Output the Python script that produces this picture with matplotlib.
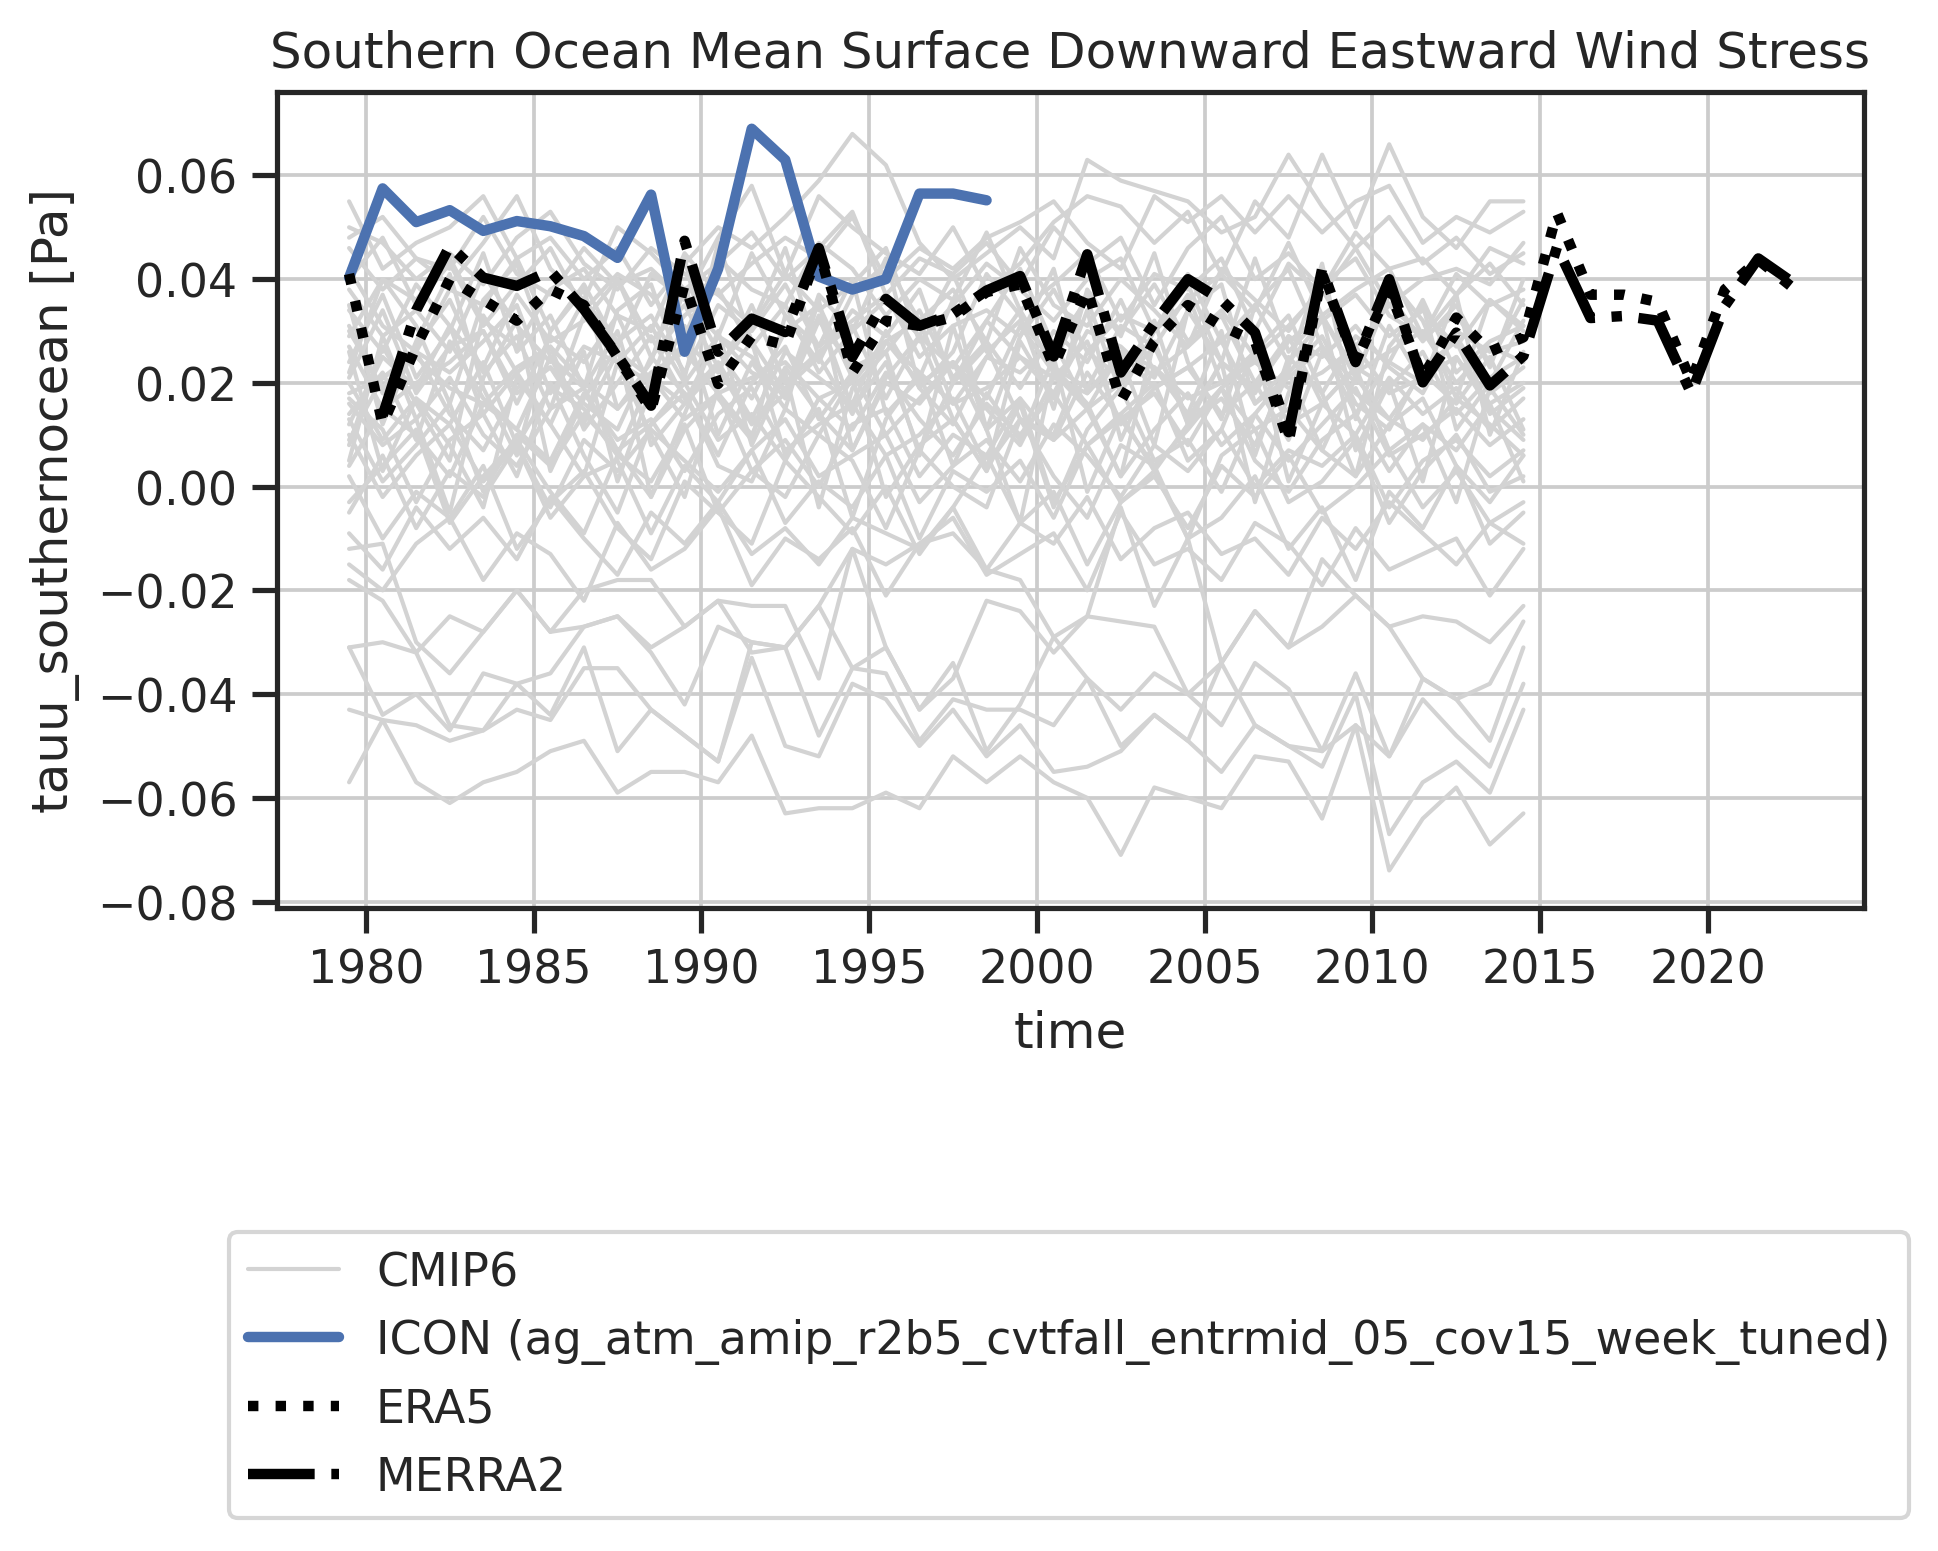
import matplotlib
matplotlib.use("Agg")
import matplotlib.pyplot as plt
import numpy as np
import seaborn as sns

# annual means, placed at mid-year
cmip_years = np.arange(1979, 2015) + 0.5
icon_years = np.arange(1979, 1999) + 0.5
era5_years = np.arange(1979, 2023) + 0.5
merra2_years = np.arange(1980, 2023) + 0.5

icon = [0.0403, 0.0575, 0.0510, 0.0533, 0.0493, 0.0512, 0.0502, 0.0483, 0.0441, 0.0563,
        0.0260, 0.0420, 0.0690, 0.0630, 0.0405, 0.0380, 0.0400, 0.0565, 0.0565, 0.0552]

era5 = [0.041, 0.012, 0.027, 0.040, 0.036, 0.032, 0.038, 0.035, 0.025, 0.0147,
        0.039, 0.0198, 0.029, 0.0273, 0.0457, 0.022, 0.032, 0.031, 0.0327, 0.0375,
        0.039, 0.0232, 0.038, 0.0165, 0.028, 0.035, 0.031, 0.028, 0.0086, 0.041,
        0.024, 0.038, 0.021, 0.0326, 0.026, 0.0288, 0.0528, 0.037, 0.037, 0.0356,
        0.0203, 0.038, 0.0437, 0.0385]

merra2 = [0.0137, 0.034, 0.0464, 0.0403, 0.0387, 0.0416, 0.0342, 0.0253, 0.0156, 0.0474,
          0.026, 0.0324, 0.0298, 0.046, 0.025, 0.0362, 0.031, 0.0333, 0.0378, 0.0406,
          0.0251, 0.0448, 0.022, 0.0315, 0.040, 0.036, 0.0297, 0.0105, 0.042, 0.024,
          0.040, 0.0201, 0.0297, 0.0195, 0.0252, 0.0462, 0.0325, 0.0329, 0.032, 0.018,
          0.0348, 0.044, 0.0395]

# CMIP6 ensemble members (1979-2014)
cmip6 = [
    [0.055, 0.042, 0.047, 0.050, 0.056, 0.044, 0.048, 0.040, 0.046, 0.035, 0.043, 0.050, 0.046, 0.052, 0.059, 0.068, 0.062, 0.047, 0.040, 0.045, 0.050, 0.044, 0.063, 0.059, 0.057, 0.055, 0.049, 0.052, 0.064, 0.054, 0.046, 0.052, 0.043, 0.048, 0.041, 0.045],
    [0.046, 0.038, 0.044, 0.042, 0.052, 0.041, 0.037, 0.046, 0.039, 0.042, 0.036, 0.048, 0.058, 0.041, 0.056, 0.050, 0.045, 0.041, 0.050, 0.038, 0.043, 0.051, 0.056, 0.054, 0.047, 0.053, 0.041, 0.055, 0.048, 0.064, 0.050, 0.066, 0.052, 0.046, 0.055, 0.055],
    [0.050, 0.047, 0.040, 0.045, 0.039, 0.048, 0.053, 0.043, 0.038, 0.046, 0.041, 0.037, 0.043, 0.048, 0.044, 0.052, 0.040, 0.046, 0.042, 0.048, 0.051, 0.055, 0.047, 0.042, 0.056, 0.051, 0.056, 0.049, 0.056, 0.049, 0.055, 0.058, 0.047, 0.052, 0.049, 0.053],
    [0.038, 0.029, 0.034, 0.026, 0.041, 0.031, 0.024, 0.036, 0.028, 0.033, 0.022, 0.035, 0.030, 0.039, 0.027, 0.032, 0.037, 0.025, 0.031, 0.034, 0.029, 0.038, 0.026, 0.033, 0.030, 0.041, 0.028, 0.035, 0.024, 0.032, 0.037, 0.029, 0.034, 0.027, 0.036, 0.031],
    [0.021, 0.034, 0.018, 0.027, 0.030, 0.016, 0.029, 0.024, 0.033, 0.019, 0.028, 0.022, 0.035, 0.020, 0.026, 0.031, 0.017, 0.029, 0.023, 0.032, 0.025, 0.018, 0.030, 0.027, 0.021, 0.034, 0.024, 0.019, 0.028, 0.033, 0.022, 0.026, 0.030, 0.020, 0.027, 0.024],
    [0.012, 0.025, 0.019, 0.031, 0.014, 0.022, 0.027, 0.011, 0.020, 0.029, 0.017, 0.024, 0.013, 0.026, 0.021, 0.016, 0.030, 0.019, 0.012, 0.025, 0.022, 0.028, 0.015, 0.020, 0.027, 0.013, 0.024, 0.018, 0.029, 0.016, 0.023, 0.019, 0.026, 0.014, 0.021, 0.025],
    [0.020, 0.009, 0.017, 0.012, 0.024, 0.008, 0.019, 0.015, 0.006, 0.021, 0.013, 0.018, 0.010, 0.023, 0.014, 0.007, 0.020, 0.016, 0.024, 0.011, 0.017, 0.009, 0.022, 0.013, 0.018, 0.008, 0.019, 0.025, 0.012, 0.016, 0.010, 0.021, 0.014, 0.019, 0.011, 0.017],
    [0.004, 0.015, 0.010, 0.002, 0.016, 0.011, 0.005, 0.018, 0.009, 0.013, 0.003, 0.014, 0.019, 0.007, 0.012, 0.016, 0.006, 0.010, 0.017, 0.004, 0.013, 0.009, 0.015, 0.002, 0.011, 0.018, 0.008, 0.014, 0.005, 0.012, 0.019, 0.006, 0.010, 0.015, 0.008, 0.013],
    [0.010, -0.002, 0.006, 0.012, 0.001, 0.008, -0.004, 0.009, 0.003, 0.011, 0.005, -0.001, 0.007, 0.013, 0.002, 0.006, 0.010, -0.003, 0.004, 0.009, 0.001, 0.012, 0.006, -0.002, 0.008, 0.003, 0.011, 0.000, 0.007, 0.004, 0.010, -0.004, 0.005, 0.009, 0.002, 0.007],
    [-0.005, 0.006, -0.008, 0.003, -0.002, 0.008, -0.006, 0.002, 0.005, -0.009, 0.004, -0.003, 0.007, -0.007, 0.001, -0.004, 0.006, -0.010, 0.003, -0.001, 0.005, -0.006, 0.008, -0.003, 0.002, -0.008, 0.004, -0.002, 0.006, -0.005, 0.000, 0.007, -0.004, 0.003, -0.007, -0.003],
    [-0.009, -0.016, -0.004, -0.012, -0.006, -0.014, -0.002, -0.010, -0.017, -0.005, -0.011, -0.003, -0.013, -0.008, -0.015, -0.006, -0.009, -0.012, -0.004, -0.016, -0.007, -0.011, -0.002, -0.014, -0.008, -0.005, -0.013, -0.010, -0.017, -0.006, -0.012, -0.003, -0.009, -0.015, -0.007, -0.011],
    [0.035, 0.012, 0.028, 0.041, 0.019, 0.006, 0.030, 0.038, 0.015, 0.024, 0.044, 0.017, 0.009, 0.033, 0.027, 0.040, 0.014, 0.021, 0.036, 0.011, 0.029, 0.042, 0.018, 0.025, 0.008, 0.034, 0.039, 0.016, 0.023, 0.043, 0.013, 0.031, 0.020, 0.037, 0.010, 0.026],
    [0.008, 0.027, 0.016, 0.005, 0.033, 0.022, 0.012, 0.026, 0.001, 0.019, 0.031, 0.010, 0.024, 0.015, 0.036, 0.007, 0.021, 0.029, 0.013, 0.003, 0.028, 0.017, 0.034, 0.009, 0.023, 0.014, 0.030, 0.006, 0.025, 0.018, 0.002, 0.027, 0.035, 0.011, 0.020, 0.032],
    [0.026, 0.003, 0.017, 0.008, -0.004, 0.021, 0.012, 0.002, 0.024, 0.010, -0.002, 0.019, 0.028, 0.006, 0.015, -0.006, 0.013, 0.022, 0.004, 0.018, 0.009, 0.025, -0.001, 0.014, 0.020, 0.005, 0.011, 0.027, 0.001, 0.016, 0.023, 0.007, 0.012, -0.003, 0.019, 0.010],
    [0.024, 0.037, 0.021, 0.030, 0.045, 0.026, 0.033, 0.019, 0.040, 0.028, 0.035, 0.023, 0.031, 0.046, 0.025, 0.034, 0.029, 0.038, 0.020, 0.032, 0.042, 0.027, 0.036, 0.018, 0.030, 0.039, 0.024, 0.044, 0.026, 0.033, 0.021, 0.037, 0.028, 0.035, 0.023, 0.040],
    [0.042, 0.031, 0.026, 0.038, 0.035, 0.044, 0.030, 0.039, 0.027, 0.041, 0.036, 0.029, 0.045, 0.033, 0.024, 0.037, 0.043, 0.032, 0.038, 0.028, 0.046, 0.035, 0.031, 0.040, 0.034, 0.027, 0.042, 0.036, 0.030, 0.039, 0.044, 0.033, 0.029, 0.041, 0.035, 0.038],
    [0.017, 0.011, -0.003, 0.009, 0.014, 0.002, 0.020, 0.006, -0.005, 0.012, 0.018, 0.004, 0.001, 0.015, 0.010, 0.021, -0.002, 0.008, 0.013, 0.003, 0.016, -0.004, 0.011, 0.019, 0.005, 0.009, -0.001, 0.014, 0.022, 0.007, 0.002, 0.012, 0.017, 0.004, -0.003, 0.006],
    [-0.003, 0.004, 0.011, -0.007, 0.002, 0.009, -0.001, -0.009, 0.006, 0.001, 0.012, -0.005, 0.003, -0.002, 0.010, 0.005, -0.008, 0.007, 0.000, -0.004, 0.013, 0.002, -0.006, 0.008, 0.004, -0.010, 0.006, 0.011, -0.003, 0.001, 0.009, -0.007, 0.003, 0.010, -0.001, 0.002],
    [0.014, 0.022, 0.009, 0.028, 0.017, 0.011, 0.025, 0.019, 0.030, 0.008, 0.016, 0.023, 0.012, 0.018, 0.033, 0.015, 0.024, 0.007, 0.020, 0.027, 0.013, 0.010, 0.026, 0.021, 0.032, 0.012, 0.017, 0.008, 0.022, 0.029, 0.016, 0.011, 0.023, 0.028, 0.014, 0.019],
    [0.030, 0.019, 0.026, 0.022, 0.028, 0.035, 0.018, 0.027, 0.024, 0.031, 0.020, 0.029, 0.025, 0.017, 0.032, 0.023, 0.026, 0.034, 0.021, 0.028, 0.019, 0.030, 0.024, 0.036, 0.022, 0.027, 0.033, 0.020, 0.029, 0.025, 0.031, 0.023, 0.018, 0.030, 0.026, 0.028],
    [0.040, 0.048, 0.035, 0.043, 0.031, 0.039, 0.046, 0.034, 0.041, 0.037, 0.029, 0.044, 0.038, 0.035, 0.047, 0.042, 0.033, 0.040, 0.036, 0.049, 0.034, 0.039, 0.045, 0.032, 0.041, 0.038, 0.044, 0.030, 0.043, 0.037, 0.046, 0.035, 0.040, 0.042, 0.039, 0.047],
    [0.005, 0.029, 0.013, -0.005, 0.021, 0.032, 0.003, 0.017, 0.027, -0.002, 0.014, 0.030, 0.008, 0.022, -0.004, 0.019, 0.026, 0.006, 0.031, 0.011, -0.007, 0.023, 0.016, 0.002, 0.028, 0.012, 0.024, -0.003, 0.018, 0.033, 0.007, 0.020, 0.001, 0.025, 0.015, 0.009],
    [0.002, -0.010, -0.001, -0.006, 0.004, -0.012, -0.003, 0.003, -0.008, -0.014, 0.001, -0.005, -0.011, 0.005, -0.002, -0.009, 0.000, -0.013, -0.004, 0.006, -0.007, -0.001, -0.015, -0.003, 0.003, -0.010, -0.006, 0.002, -0.012, -0.004, -0.018, -0.001, -0.008, 0.004, -0.011, -0.005],
    [0.018, 0.021, 0.025, 0.019, 0.016, 0.023, 0.027, 0.020, 0.015, 0.022, 0.026, 0.018, 0.021, 0.024, 0.017, 0.020, 0.028, 0.022, 0.016, 0.019, 0.025, 0.021, 0.018, 0.026, 0.023, 0.017, 0.020, 0.024, 0.019, 0.022, 0.027, 0.018, 0.021, 0.025, 0.016, 0.020],
    [0.022, 0.040, 0.031, 0.016, 0.036, 0.043, 0.025, 0.012, 0.034, 0.039, 0.021, 0.047, 0.028, 0.018, 0.037, 0.030, 0.044, 0.019, 0.026, 0.041, 0.033, 0.015, 0.038, 0.029, 0.045, 0.024, 0.013, 0.035, 0.042, 0.027, 0.020, 0.040, 0.032, 0.017, 0.036, 0.030],
    [0.013, 0.001, 0.008, 0.016, -0.001, 0.010, 0.004, 0.014, 0.007, -0.002, 0.011, 0.018, 0.003, 0.009, 0.000, 0.012, 0.015, 0.002, 0.010, 0.006, 0.017, -0.003, 0.008, 0.013, 0.004, 0.011, 0.019, 0.005, -0.001, 0.009, 0.014, 0.003, 0.012, 0.007, 0.016, 0.001],
    [0.048, 0.052, 0.044, 0.039, 0.047, 0.056, 0.042, 0.036, 0.050, 0.045, 0.038, 0.043, 0.049, 0.040, 0.046, 0.053, 0.037, 0.044, 0.041, 0.047, 0.039, 0.050, 0.043, 0.048, 0.035, 0.046, 0.052, 0.040, 0.045, 0.038, 0.049, 0.042, 0.044, 0.037, 0.046, 0.043],
    [-0.015, -0.020, -0.011, -0.006, -0.018, -0.009, -0.013, -0.022, -0.007, -0.016, -0.012, -0.004, -0.019, -0.010, -0.014, -0.008, -0.021, -0.011, -0.006, -0.017, -0.013, -0.009, -0.020, -0.005, -0.015, -0.012, -0.018, -0.007, -0.011, -0.019, -0.008, -0.016, -0.013, -0.010, -0.021, -0.012],
    [0.031, 0.018, 0.027, 0.036, 0.022, 0.029, 0.015, 0.033, 0.024, 0.020, 0.038, 0.026, 0.017, 0.030, 0.035, 0.021, 0.028, 0.032, 0.016, 0.025, 0.034, 0.023, 0.019, 0.031, 0.027, 0.037, 0.020, 0.026, 0.033, 0.018, 0.029, 0.024, 0.036, 0.022, 0.028, 0.031],
    [0.009, 0.021, 0.026, 0.014, 0.007, 0.019, 0.023, 0.016, 0.011, 0.025, 0.018, 0.006, 0.020, 0.027, 0.013, 0.022, 0.010, 0.017, 0.024, 0.015, 0.008, 0.021, 0.028, 0.012, 0.019, 0.023, 0.014, 0.020, 0.009, 0.026, 0.018, 0.013, 0.022, 0.016, 0.025, 0.011],
    [0.029, 0.040, 0.036, 0.044, 0.032, 0.027, 0.038, 0.042, 0.033, 0.030, 0.045, 0.037, 0.031, 0.041, 0.034, 0.039, 0.046, 0.028, 0.035, 0.043, 0.038, 0.032, 0.040, 0.044, 0.030, 0.036, 0.041, 0.034, 0.047, 0.033, 0.038, 0.042, 0.029, 0.037, 0.043, 0.035],
    [0.016, 0.008, 0.013, 0.021, 0.010, 0.004, 0.015, 0.019, 0.007, 0.012, 0.020, 0.009, 0.014, 0.005, 0.017, 0.011, 0.022, 0.013, 0.006, 0.016, 0.010, 0.018, 0.008, 0.014, 0.003, 0.012, 0.019, 0.011, 0.015, 0.007, 0.021, 0.013, 0.009, 0.017, 0.012, 0.006],
    [0.027, 0.015, 0.020, 0.024, 0.030, 0.018, 0.023, 0.013, 0.026, 0.021, 0.016, 0.029, 0.022, 0.019, 0.025, 0.014, 0.028, 0.020, 0.024, 0.017, 0.031, 0.022, 0.015, 0.026, 0.019, 0.023, 0.028, 0.016, 0.021, 0.027, 0.014, 0.024, 0.020, 0.029, 0.018, 0.023],
    [0.034, 0.026, 0.039, 0.031, 0.023, 0.037, 0.028, 0.032, 0.040, 0.025, 0.033, 0.038, 0.027, 0.035, 0.022, 0.030, 0.036, 0.029, 0.041, 0.026, 0.032, 0.024, 0.037, 0.030, 0.039, 0.028, 0.034, 0.025, 0.031, 0.038, 0.027, 0.035, 0.029, 0.033, 0.024, 0.036],
    [-0.057, -0.045, -0.057, -0.061, -0.057, -0.055, -0.051, -0.049, -0.059, -0.055, -0.055, -0.057, -0.048, -0.063, -0.062, -0.062, -0.059, -0.062, -0.052, -0.057, -0.052, -0.057, -0.060, -0.071, -0.058, -0.060, -0.062, -0.052, -0.053, -0.064, -0.046, -0.074, -0.064, -0.058, -0.069, -0.063],
    [-0.043, -0.045, -0.046, -0.049, -0.047, -0.043, -0.045, -0.035, -0.035, -0.043, -0.048, -0.053, -0.033, -0.050, -0.052, -0.038, -0.041, -0.050, -0.043, -0.052, -0.046, -0.055, -0.054, -0.051, -0.044, -0.049, -0.055, -0.046, -0.050, -0.054, -0.040, -0.067, -0.057, -0.053, -0.059, -0.043],
    [-0.031, -0.044, -0.040, -0.047, -0.036, -0.038, -0.036, -0.027, -0.025, -0.032, -0.042, -0.027, -0.030, -0.031, -0.048, -0.035, -0.036, -0.049, -0.041, -0.043, -0.043, -0.046, -0.037, -0.043, -0.036, -0.040, -0.046, -0.034, -0.039, -0.051, -0.036, -0.052, -0.041, -0.048, -0.054, -0.038],
    [-0.018, -0.022, -0.032, -0.025, -0.028, -0.020, -0.028, -0.020, -0.018, -0.018, -0.027, -0.022, -0.023, -0.023, -0.037, -0.012, -0.031, -0.043, -0.037, -0.022, -0.024, -0.032, -0.025, -0.026, -0.027, -0.040, -0.034, -0.024, -0.031, -0.027, -0.021, -0.027, -0.037, -0.041, -0.049, -0.031],
    [-0.031, -0.030, -0.032, -0.046, -0.047, -0.038, -0.044, -0.031, -0.051, -0.043, -0.048, -0.053, -0.030, -0.031, -0.023, -0.035, -0.031, -0.043, -0.034, -0.051, -0.042, -0.029, -0.037, -0.050, -0.044, -0.049, -0.034, -0.046, -0.050, -0.051, -0.046, -0.052, -0.037, -0.041, -0.038, -0.026],
    [-0.012, -0.011, -0.030, -0.036, -0.028, -0.020, -0.028, -0.027, -0.025, -0.031, -0.027, -0.022, -0.032, -0.031, -0.023, -0.012, -0.015, -0.011, -0.009, -0.016, -0.018, -0.029, -0.025, -0.004, -0.023, -0.010, -0.034, -0.024, -0.031, -0.014, -0.021, -0.027, -0.025, -0.026, -0.030, -0.023],
]

sns.set_theme(style="ticks", rc={"axes.grid": True})
plt.rcParams["font.family"] = ["DejaVu Sans"]
plt.rcParams["grid.color"] = "0.8"
plt.rcParams["grid.linewidth"] = 0.9

fig = plt.figure(figsize=(1938 / 300, 1552 / 300), dpi=300)
ax = fig.add_axes([0.1429, 0.4146, 0.8189, 0.5257])

for i, member in enumerate(cmip6):
    ax.plot(cmip_years, member, color="lightgray", lw=1.0,
            label="CMIP6" if i == 0 else None)
ax.plot(icon_years, icon, color="#4c72b0", lw=2.5,
        label="ICON (ag_atm_amip_r2b5_cvtfall_entrmid_05_cov15_week_tuned)")
ax.plot(era5_years, era5, color="black", lw=2.5, ls=":", label="ERA5")
ax.plot(merra2_years, merra2, color="black", lw=2.5, ls="-.", label="MERRA2")

ax.set_xticks([1980, 1985, 1990, 1995, 2000, 2005, 2010, 2015, 2020])
ax.tick_params(labelsize=11)
ax.set_title("Southern Ocean Mean Surface Downward Eastward Wind Stress", fontsize=12)
ax.set_xlabel("time", fontsize=12)
ax.set_ylabel("tauu_southernocean [Pa]", fontsize=12)

ax.legend(loc="center", bbox_to_anchor=(0.5516, 0.1134), bbox_transform=fig.transFigure,
          fontsize=11)

fig.savefig("out.png", dpi=300)
